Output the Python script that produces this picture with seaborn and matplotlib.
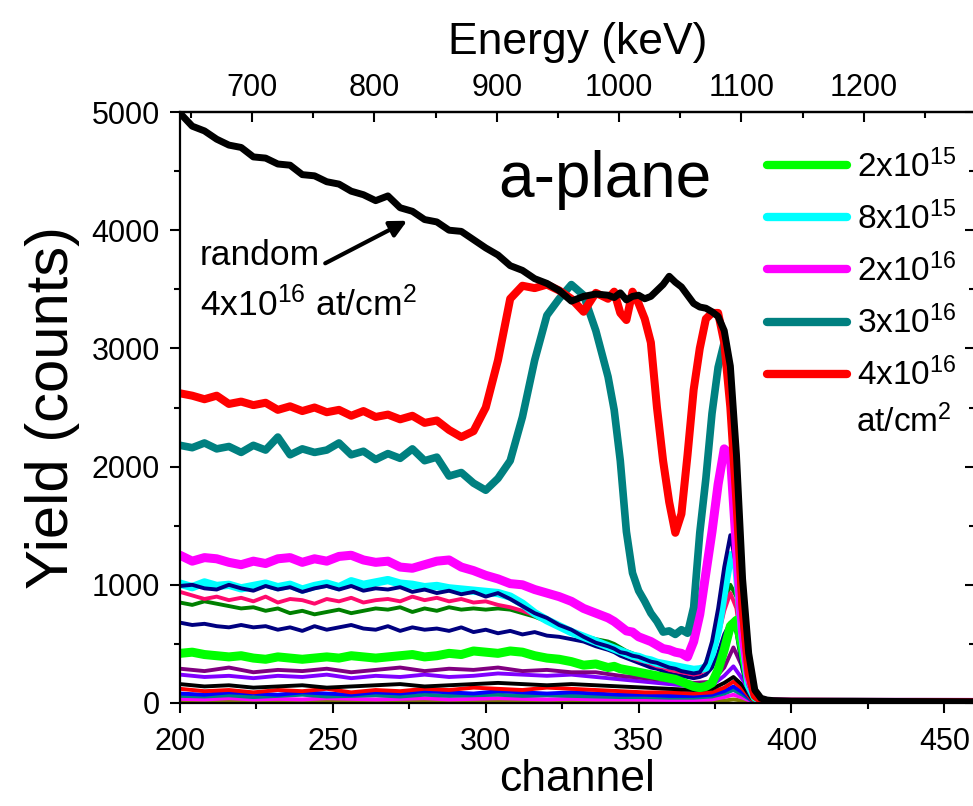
import matplotlib
matplotlib.use("Agg")
import matplotlib.pyplot as plt
import seaborn as sns
from matplotlib.lines import Line2D
from matplotlib.ticker import MultipleLocator

# ---------------- data ----------------
CH = [200, 204, 208, 212, 216, 220, 224, 228, 232, 236, 240, 244, 248, 252, 256, 260, 264, 268,
      272, 276, 280, 284, 288, 292, 296, 300, 304, 308, 312, 316, 320, 324, 328, 332, 336,
      340, 342, 344, 346, 348, 350, 352, 354, 356, 358, 360, 362, 364, 366, 368, 370, 372, 374,
      376, 378, 380, 382, 384, 386, 388, 390, 392, 394,
      400, 420, 440, 460]

random_4e16 = [4990, 4880, 4840, 4770, 4720, 4700, 4620, 4610, 4560, 4550, 4470, 4460, 4410, 4390,
               4330, 4300, 4250, 4290, 4190, 4160, 4090, 4070, 4000, 3990, 3920, 3850, 3790, 3700,
               3660, 3590, 3550, 3490, 3400, 3440, 3460,
               3450, 3430, 3470, 3410, 3440, 3450, 3420, 3440, 3490, 3540, 3610, 3560, 3520, 3450,
               3380, 3350, 3340, 3310, 3270, 3150, 2850, 2100, 1050, 420, 110, 40, 25, 20,
               15, 15, 12, 10]
d_4e16 = [2620, 2600, 2570, 2600, 2530, 2550, 2520, 2540, 2480, 2510, 2470, 2500, 2460, 2480, 2430,
          2470, 2420, 2440, 2400, 2430, 2370, 2390, 2310, 2250, 2300, 2500, 2900, 3420, 3530, 3510,
          3540, 3490, 3420, 3310, 3470,
          3420, 3480, 3300, 3240, 3480, 3380, 3250, 3050, 2500, 2050, 1700, 1440, 1600, 2100, 2650,
          3000, 3250, 3300, 3300, 3050, 2500, 1700, 800, 250, 60, 25, 15, 10,
          10, 8, 8, 6]
d_3e16 = [2180, 2160, 2200, 2150, 2170, 2120, 2180, 2140, 2250, 2100, 2150, 2120, 2140, 2200, 2100,
          2130, 2060, 2110, 2070, 2150, 2050, 2080, 1920, 1950, 1860, 1800, 1900, 2050, 2420, 2900,
          3280, 3420, 3540, 3450, 3150,
          2760, 2480, 2050, 1450, 1100, 950, 860, 760, 690, 600, 610, 580, 620, 590, 810, 1440, 1900,
          2450, 2840, 3050, 2700, 1800, 800, 250, 60, 25, 15, 10,
          10, 8, 8, 5]
d_2e16 = [1250, 1200, 1230, 1220, 1190, 1170, 1200, 1180, 1220, 1230, 1190, 1220, 1200, 1240, 1250,
          1210, 1190, 1200, 1150, 1140, 1170, 1200, 1210, 1150, 1120, 1080, 1050, 1010, 1000, 960,
          930, 900, 860, 800, 760,
          720, 690, 650, 610, 600, 560, 540, 520, 490, 460, 450, 430, 420, 390, 520, 750, 1100, 1450,
          1850, 2150, 2100, 1300, 600, 220, 70, 25, 12, 10,
          8, 6, 6, 5]
d_8e15 = [1010, 980, 1020, 990, 1000, 970, 990, 1010, 980, 1000, 960, 990, 1010, 980, 1030, 1000,
          1020, 1040, 1010, 1000, 980, 990, 970, 960, 950, 940, 930, 900, 840, 760, 700, 650, 600,
          560, 520,
          480, 460, 440, 420, 400, 390, 370, 360, 340, 330, 320, 310, 300, 290, 280, 285, 300, 420,
          620, 950, 1250, 1150, 550, 150, 50, 20, 12, 10,
          8, 6, 6, 5]
d_2e15 = [420, 430, 410, 400, 390, 400, 380, 370, 390, 380, 370, 380, 390, 380, 400, 390, 380, 390,
          400, 410, 390, 400, 420, 410, 440, 430, 420, 440, 430, 400, 380, 370, 350, 320, 330,
          300, 310, 290, 280, 270, 260, 250, 240, 230, 220, 210, 200, 180, 160, 140, 130, 140, 170,
          280, 450, 650, 700, 450, 160, 50, 20, 10, 8,
          6, 5, 5, 4]
navy_a = [990, 1000, 970, 960, 1000, 970, 950, 990, 960, 980, 940, 970, 990, 960, 990, 950, 970, 960,
          980, 940, 960, 930, 950, 920, 940, 900, 930, 880, 820, 760, 720, 660, 620, 560, 510,
          480, 460, 430, 420, 400, 390, 370, 350, 340, 320, 300, 290, 270, 260, 250, 260, 340, 520,
          800, 1150, 1420, 1150, 500, 150, 40, 15, 10, 8,
          6, 5, 5, 4]
crimson = [940, 910, 880, 900, 870, 890, 860, 900, 850, 880, 870, 840, 880, 860, 890, 850, 870, 880,
           860, 900, 870, 890, 860, 880, 850, 860, 830, 810, 780, 740, 690, 640, 590, 550, 510,
           470, 450, 430, 400, 380, 360, 350, 330, 310, 300, 280, 270, 260, 250, 240, 250, 280, 380,
           560, 780, 930, 800, 380, 110, 30, 12, 8, 6,
           5, 4, 4, 3]
dark_green = [850, 830, 860, 840, 820, 800, 810, 780, 800, 760, 780, 750, 770, 790, 760, 780, 800,
              790, 810, 770, 800, 780, 810, 790, 800, 790, 800, 790, 760, 730, 690, 640, 610, 570, 540,
              520, 500, 470, 440, 420, 400, 380, 360, 340, 320, 310, 290, 280, 270, 260, 270, 300,
              420, 620, 850, 1000, 900, 420, 120, 35, 12, 8, 6,
              5, 4, 4, 3]
navy_b = [680, 660, 670, 650, 640, 660, 640, 650, 620, 640, 610, 650, 620, 640, 660, 630, 620, 650,
          610, 640, 620, 630, 610, 640, 600, 620, 590, 610, 580, 600, 570, 560, 540, 520, 480,
          450, 430, 400, 380, 360, 340, 320, 300, 290, 270, 250, 240, 230, 220, 210, 220, 240, 300,
          420, 580, 680, 600, 280, 80, 25, 10, 6, 5,
          4, 3, 3, 3]

LOW_CH = [200, 208, 216, 224, 232, 240, 248, 256, 264, 272, 280, 288, 296, 304, 312, 320, 328, 336,
          344, 352, 360, 368, 374, 378, 381, 384, 387, 390, 400, 460]
purple = [290, 270, 300, 260, 280, 270, 290, 260, 280, 300, 270, 290, 280, 300, 270, 280, 260, 260,
          230, 210, 190, 170, 180, 300, 470, 300, 80, 20, 5, 3]
violet = [240, 220, 230, 210, 230, 220, 240, 210, 230, 220, 240, 220, 230, 250, 240, 230, 240, 220,
          200, 180, 160, 140, 150, 230, 310, 200, 60, 15, 4, 3]
black_thin = [160, 140, 150, 130, 140, 150, 130, 140, 150, 160, 140, 150, 160, 170, 160, 150, 160,
              150, 140, 130, 120, 110, 120, 170, 220, 150, 40, 10, 3, 2]
red_thin = [120, 100, 110, 90, 110, 100, 120, 90, 110, 100, 120, 110, 130, 120, 110, 130, 120, 110,
            100, 90, 90, 80, 90, 130, 180, 120, 30, 8, 3, 2]
blue_thin = [80, 70, 90, 80, 70, 90, 80, 70, 90, 80, 100, 90, 80, 100, 90, 80, 90, 80, 70, 70, 60,
             60, 70, 100, 140, 90, 25, 6, 2, 2]
teal_thin = [60, 55, 65, 50, 60, 70, 55, 60, 65, 55, 70, 60, 65, 70, 60, 65, 60, 55, 50, 50, 45, 45,
             55, 80, 110, 70, 20, 5, 2, 2]
magenta_thin = [35, 30, 40, 30, 35, 30, 40, 35, 30, 35, 40, 30, 35, 40, 35, 30, 35, 30, 30, 28, 25,
                25, 30, 50, 70, 45, 12, 4, 2, 2]
olive_thin = [15, 12, 18, 14, 16, 12, 15, 18, 14, 16, 12, 15, 17, 14, 16, 13, 15, 14, 12, 12, 10,
              10, 12, 20, 30, 20, 6, 2, 1, 1]

LEGEND_LABELS = ["2x10$^{15}$", "8x10$^{15}$", "2x10$^{16}$", "3x10$^{16}$", "4x10$^{16}$"]
Y_TICKS = [0, 1000, 2000, 3000, 4000, 5000]
X_TICKS = [200, 250, 300, 350, 400, 450]
E_TICKS = [700, 800, 900, 1000, 1100, 1200]

# ---------------- style ----------------
sns.set_theme(style="ticks")
plt.rcParams["font.family"] = ["Liberation Sans", "DejaVu Sans"]
plt.rcParams["mathtext.fontset"] = "custom"
plt.rcParams["mathtext.rm"] = "Liberation Sans"
plt.rcParams["mathtext.it"] = "Liberation Sans"
plt.rcParams["mathtext.bf"] = "Liberation Sans"
plt.rcParams["mathtext.default"] = "rm"
for k in ["text.color", "axes.labelcolor", "xtick.color", "ytick.color", "axes.edgecolor",
          "xtick.labelcolor", "ytick.labelcolor"]:
    plt.rcParams[k] = "black"

fig = plt.figure(figsize=(9.73, 8.06), dpi=100)
ax = fig.add_axes([180 / 973, 1 - 703 / 806, (973 - 180) / 973 + 0.002, (703 - 112) / 806])

low = [(olive_thin, "#808000"), (magenta_thin, "#FF00FF"), (teal_thin, "#008080"),
       (blue_thin, "#0000FF"), (red_thin, "#FF0000"), (black_thin, "#000000"),
       (violet, "#8000FF"), (purple, "#800080")]
for vals, c in low:
    sns.lineplot(x=LOW_CH, y=vals, ax=ax, color=c, linewidth=2.8, estimator=None, sort=False)

mid = [(navy_b, "#000080", 2.8), (dark_green, "#008000", 2.8), (crimson, "#FF0A6C", 2.8),
       (d_2e15, "#00FF00", 6.5), (d_8e15, "#00FFFF", 6.0), (navy_a, "#000080", 2.8),
       (d_2e16, "#FF00FF", 6.5), (d_3e16, "#008080", 5.5), (d_4e16, "#FF0000", 5.8),
       (random_4e16, "#000000", 5.0)]
for vals, c, lw in mid:
    sns.lineplot(x=CH, y=vals, ax=ax, color=c, linewidth=lw, estimator=None, sort=False)

ax.set_xlim(200, 460)
ax.set_ylim(0, 5000)
ax.set_xticks(X_TICKS)
ax.set_yticks(Y_TICKS)
ax.xaxis.set_minor_locator(MultipleLocator(25))
ax.yaxis.set_minor_locator(MultipleLocator(500))
ax.tick_params(axis="both", which="major", labelsize=22, width=1.5, length=7.5, direction="out")
ax.tick_params(axis="both", which="minor", width=1.5, length=4.5, direction="out")
ax.tick_params(axis="x", which="major", pad=10)
ax.tick_params(axis="y", which="major", pad=7)
ax.tick_params(axis="x", which="both", top=False)
ax.tick_params(axis="y", which="both", right=True, labelright=False, left=True)
for sp in ax.spines.values():
    sp.set_linewidth(1.6)
    sp.set_color("black")
    sp.set_visible(True)
# right-side ticks point inward
for t in ax.yaxis.get_major_ticks() + ax.yaxis.get_minor_ticks():
    t.tick2line.set_marker(matplotlib.lines.TICKLEFT)

ax.set_xlabel("channel", fontsize=32, labelpad=1)
ax.set_ylabel("Yield (counts)", fontsize=43, labelpad=8)

# top energy axis
secax = ax.secondary_xaxis("top", functions=(lambda ch: 2.5 * ch + 141, lambda e: (e - 141) / 2.5))
secax.set_xticks(E_TICKS)
secax.xaxis.set_minor_locator(MultipleLocator(50))
secax.tick_params(which="major", direction="in", length=7.5, width=1.5, labelsize=22, pad=6.5,
                  colors="black")
secax.tick_params(which="minor", direction="in", length=4.5, width=1.5)
secax.spines["top"].set_linewidth(1.6)
secax.set_xlabel("Energy (keV)", fontsize=32, labelpad=14)

# texts
ax.text(339, 4425, "a-plane", fontsize=46, ha="center", va="center")
ax.text(206.5, 3790, "random", fontsize=25.5, ha="left", va="center")
ax.text(206.5, 3370, "4x10$^{16}$ at/cm$^2$", fontsize=25.5, ha="left", va="center")
ax.annotate("", xy=(274.3, 4080), xytext=(247.5, 3720),
            arrowprops=dict(arrowstyle="-|>", lw=3, color="black", mutation_scale=25,
                            shrinkA=0, shrinkB=0))

handles = [Line2D([], [], color=c, lw=6) for c in ["#00FF00", "#00FFFF", "#FF00FF", "#008080", "#FF0000"]]
leg = ax.legend(handles, LEGEND_LABELS, loc="upper left", bbox_to_anchor=(0.738, 0.937),
                frameon=False, fontsize=24, handlelength=2.4, handletextpad=0.3,
                labelspacing=0.53, borderpad=0, borderaxespad=0)
ax.text(421.1, 2380, "at/cm$^2$", fontsize=24, ha="left", va="center")

fig.savefig("out.png", dpi=100)
